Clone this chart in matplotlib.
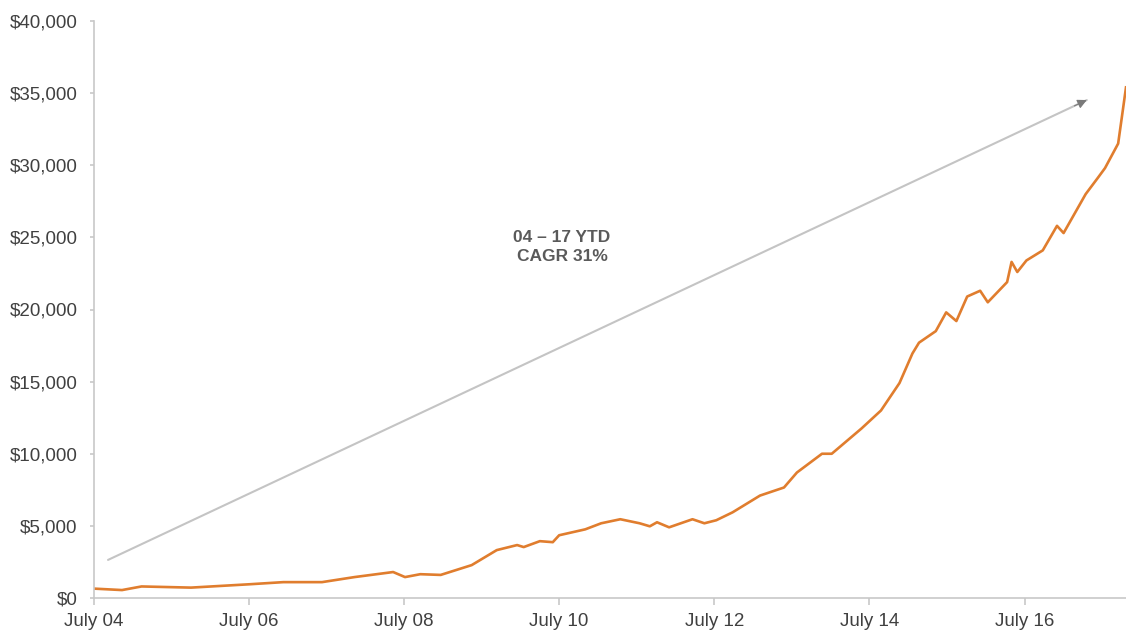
import matplotlib
matplotlib.use("Agg")
import matplotlib.pyplot as plt
from matplotlib.ticker import FuncFormatter, MultipleLocator
import pandas as pd

plt.rcParams['font.family'] = ['Liberation Sans', 'DejaVu Sans']

dates = ["2004-07-01", "2004-11-10", "2005-02-10", "2005-10-01", "2006-07-01",
         "2006-12-10", "2007-06-10", "2007-11-10", "2008-05-10", "2008-07-05",
         "2008-09-15", "2008-12-20", "2009-05-15", "2009-09-10", "2009-12-15",
         "2010-01-15", "2010-04-01", "2010-06-01", "2010-07-01", "2010-11-01",
         "2011-01-15", "2011-04-15", "2011-07-15", "2011-09-01", "2011-10-05",
         "2011-12-01", "2012-03-20", "2012-05-15", "2012-07-10", "2012-09-25",
         "2013-02-01", "2013-05-25", "2013-07-25", "2013-11-20", "2014-01-05",
         "2014-05-25", "2014-08-25", "2014-11-20", "2015-01-20", "2015-02-20",
         "2015-05-10", "2015-06-28", "2015-08-15", "2015-10-05", "2015-12-05",
         "2016-01-10", "2016-04-10", "2016-05-01", "2016-05-28", "2016-07-10",
         "2016-09-25", "2016-12-01", "2017-01-01", "2017-04-15", "2017-06-10",
         "2017-07-15", "2017-09-15", "2017-10-05", "2017-10-22"]
revenue = [650, 550, 800, 720, 950,
           1100, 1100, 1450, 1800, 1450,
           1650, 1600, 2280, 3320, 3670,
           3530, 3940, 3870, 4350, 4760,
           5180, 5460, 5180, 4970, 5250,
           4900, 5460, 5180, 5390, 5940,
           7100, 7660, 8700, 10000, 10000,
           11750, 13000, 14900, 16950, 17700,
           18500, 19800, 19200, 20900, 21300,
           20500, 21900, 23300, 22600, 23400,
           24100, 25800, 25300, 28000, 29100,
           29800, 31500, 33600, 35400]

tick_dates = ["2004-07-01", "2006-07-01", "2008-07-01", "2010-07-01",
              "2012-07-01", "2014-07-01", "2016-07-01"]
tick_labels = ["July 04", "July 06", "July 08", "July 10",
               "July 12", "July 14", "July 16"]
annotation = "04 \u2013 17 YTD\nCAGR 31%"

x = pd.to_datetime(dates)

fig = plt.figure(figsize=(11.26, 6.34), dpi=100)
ax = fig.add_axes([94/1126, 36/634, 1 - 94/1126, (598-21)/634])

ax.plot(x, revenue, color='#e07d2e', lw=1.9, solid_joinstyle='round')

ax.set_xlim(pd.Timestamp("2004-07-01"), pd.Timestamp("2017-10-22"))
ax.set_ylim(0, 40000)
ax.set_xticks(pd.to_datetime(tick_dates))
ax.set_xticklabels(tick_labels)
ax.yaxis.set_major_locator(MultipleLocator(5000))
ax.yaxis.set_major_formatter(FuncFormatter(lambda v, p: f"${v:,.0f}"))

for s in ['top', 'right']:
    ax.spines[s].set_visible(False)
for s in ['left', 'bottom']:
    ax.spines[s].set_color('#c8c8c8')
    ax.spines[s].set_linewidth(1.2)
ax.tick_params(axis='x', colors='#c8c8c8', labelcolor='#404040', length=5,
               width=1.2, labelsize=13.5, pad=6)
ax.tick_params(axis='y', colors='#c8c8c8', labelcolor='#404040', length=3,
               width=1.2, labelsize=13.5, pad=9)

start = (0.0136, 0.066)
end = (0.962, 0.863)
ax.annotate("", xy=end, xytext=start,
            xycoords='axes fraction', textcoords='axes fraction',
            arrowprops=dict(arrowstyle='-', color='#c4c4c4', lw=1.5,
                            shrinkA=0, shrinkB=0))
near = (end[0] - 0.012, end[1] - 0.0101)
ax.annotate("", xy=end, xytext=near,
            xycoords='axes fraction', textcoords='axes fraction',
            arrowprops=dict(arrowstyle='-|>', color='#7a7a7a', lw=0.8,
                            mutation_scale=14, shrinkA=0, shrinkB=0))
ax.text(0.4535, 0.608, annotation, transform=ax.transAxes, ha='center',
        va='center', fontsize=12.5, fontweight='bold', color='#5a5a5a',
        linespacing=1.35)

fig.savefig("out.png", dpi=100)
